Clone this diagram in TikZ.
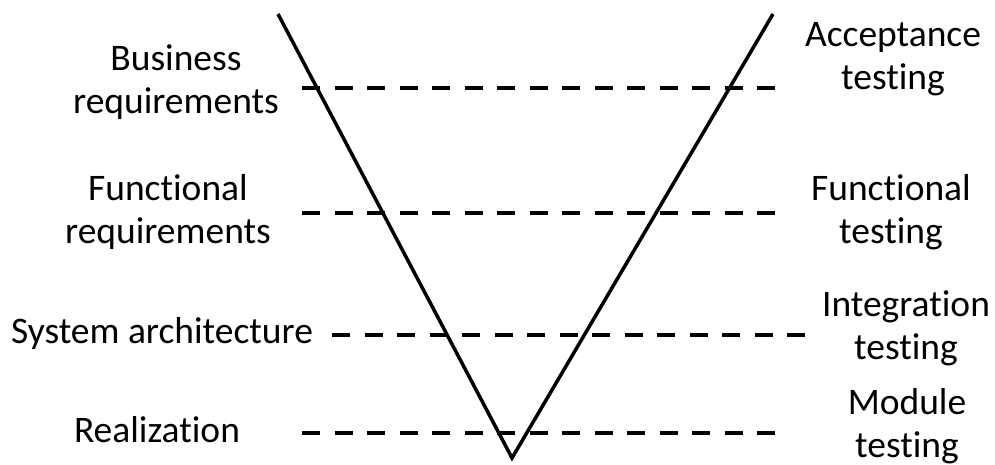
\documentclass[tikz,border=0pt]{standalone}
\usepackage{fontspec}
\setmainfont[Ligatures=NoCommon]{Carlito}
\begin{document}
\begin{tikzpicture}[x=1pt,y=-1pt,
  vline/.style={line width=3.5pt, line join=miter},
  level/.style={line width=3.5pt, dash pattern=on 18pt off 14.5pt},
  lbl/.style={font=\fontsize{37.5}{43}\selectfont, align=center, inner sep=0pt, anchor=base}]
\useasboundingbox (0,0) rectangle (995,465);
% V shape
\coordinate (lt) at (278,14);
\coordinate (apex) at (512,458);
\coordinate (rt) at (773,14);
\draw[vline] (lt) -- (apex) -- (rt);
% dashed levels
\coordinate (a1) at (302,88);  \coordinate (b1) at (775,88);
\coordinate (a2) at (302,213); \coordinate (b2) at (775,213);
\coordinate (a3) at (332,335); \coordinate (b3) at (805,335);
\coordinate (a4) at (302,433); \coordinate (b4) at (775,433);
\draw[level] (a1) -- (b1);
\draw[level] (a2) -- (b2);
\draw[level] (a3) -- (b3);
\draw[level] (a4) -- (b4);
% labels (anchor at baseline of last line)
\node[lbl] (br) at (176,114) {Business\\requirements};
\node[lbl] (fr) at (168,243) {Functional\\requirements};
\node[lbl] (sa) at (162,343) {System architecture};
\node[lbl] (re) at (157,442) {Realization};
\node[lbl] (at) at (893,90) {Acceptance\\testing};
\node[lbl] (ft) at (891,243) {Functional\\testing};
\node[lbl] (it) at (906,359) {Integration\\testing};
\node[lbl] (mt) at (907,457) {Module\\testing};
\end{tikzpicture}
\end{document}
